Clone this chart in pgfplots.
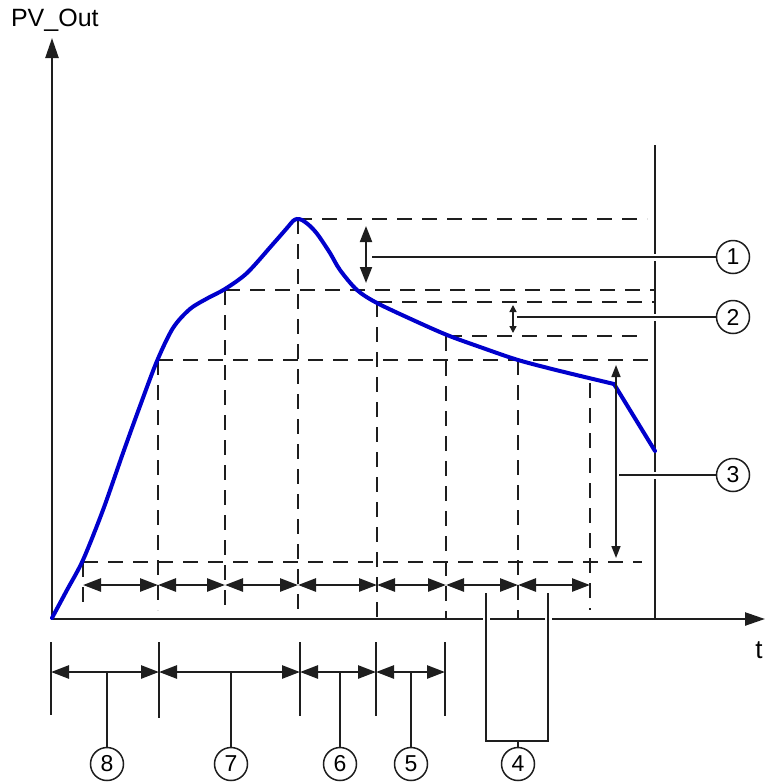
\documentclass[border=0pt]{standalone}
\usepackage{pgfplots}
\pgfplotsset{compat=1.18}
\usepackage{fontspec}
\setmainfont{Liberation Sans}
\usetikzlibrary{arrows.meta}
\definecolor{pvblue}{RGB}{0,0,204}
\definecolor{ink}{RGB}{30,30,30}

\tikzset{
  dsh/.style={draw=ink, line width=0.65pt, dash pattern=on 7.5pt off 5pt},
  lead/.style={draw=ink, line width=0.8pt},
  tck/.style={draw=ink, line width=1pt},
  dbl/.style={draw=ink, line width=1.3pt, {Triangle[length=9pt,width=6.5pt]}-{Triangle[length=9pt,width=6.5pt]}},
  circ/.style={draw=ink, circle, line width=0.75pt, minimum size=16.5pt, inner sep=0pt, fill=white,
    font=\fontsize{11.5}{12}\selectfont},
  halo/.style={preaction={draw=white, line width=3.5pt}},
}

\begin{document}
\begin{tikzpicture}
\begin{axis}[
  width=382.5pt, height=391pt, scale only axis,
  xmin=0, xmax=765, ymin=0, ymax=782, y dir=reverse,
  hide axis, clip=false,
]
% frame of the picture
\path (axis cs:0,0) rectangle (axis cs:765,782);

% dashed guides, horizontal
\draw[dsh] (297,219) -- (647,219);
\draw[dsh] (225,290) -- (655,290);
\draw[dsh] (377,302) -- (655,302);
\draw[dsh] (447,336) -- (640,336);
\draw[dsh] (158,360) -- (655,360);
\draw[dsh] (83,562) -- (642,562);
% dashed guides, vertical
\draw[dsh] (83,562) -- (83,610);
\draw[dsh] (158,360) -- (158,610);
\draw[dsh] (225,290) -- (225,608);
\draw[dsh] (298,219) -- (298,619);
\draw[dsh] (377,302) -- (377,619);
\draw[dsh] (446,336) -- (446,619);
\draw[dsh] (518,360) -- (518,619);
\draw[dsh] (590,383) -- (590,610);

% axes
\draw[draw=ink, line width=1.2pt, -{Triangle[length=10pt,width=6.5pt]}] (52,619) -- (52,38);
\draw[draw=ink, line width=1.2pt, -{Triangle[length=10pt,width=6.5pt]}] (52,619) -- (765,619);
\draw[draw=ink, line width=1pt] (655,145) -- (655,619);
\node[anchor=west, font=\fontsize{12.5}{13}\selectfont] at (4,20) {PV\_Out};
\node[font=\fontsize{13}{13}\selectfont] at (759,650) {t};

% process value
\addplot[pvblue, line width=2pt, smooth, tension=0.5, line cap=round] coordinates {
  (52,618) (67,590) (83,560) (103,510) (123,453) (140,406) (157,361)
  (173,328) (190,309) (208,298) (225,289) (247,273) (273,244) (287,228)
  (293,221) (297,219) (302,220) (310,226) (318,235) (330,253) (340,270)
  (357,290) (377,303) (413,320) (447,335) (480,347) (518,360) (560,371) (614,384)
};
\addplot[pvblue, line width=2pt, line cap=round] coordinates {(614,384) (655,451)};

% intervals between the samples
\draw[dbl] (83,585) -- (158,585);
\draw[dbl] (158,585) -- (225,585);
\draw[dbl] (225,585) -- (298,585);
\draw[dbl] (298,585) -- (377,585);
\draw[dbl] (377,585) -- (446,585);
\draw[dbl] (446,585) -- (518,585);
\draw[dbl] (518,585) -- (590,585);

% markers 1 to 3
\draw[draw=ink, line width=1pt, {Triangle[length=8pt,width=6pt]}-{Triangle[length=8pt,width=6pt]}] (366,226) -- (366,283);
\draw[lead, halo] (372,257) -- (717,257);
\node[circ] at (733,257) {1};
\draw[draw=ink, line width=0.7pt, {Triangle[length=3.5pt,width=3.5pt]}-{Triangle[length=3.5pt,width=3.5pt]}] (513,305) -- (513,333);
\draw[lead, halo] (517,317) -- (717,317);
\node[circ] at (733,317) {2};
\draw[draw=ink, line width=0.8pt, {Triangle[length=6pt,width=4.5pt]}-{Triangle[length=6pt,width=4.5pt]}] (616,365) -- (616,558);
\draw[lead, halo] (619,475) -- (717,475);
\node[circ] at (733,475) {3};

% lower part: phases 5 to 8
\draw[tck] (51,642) -- (51,715);
\draw[tck] (159,642) -- (159,718);
\draw[tck] (300,642) -- (300,716);
\draw[tck] (376,642) -- (376,716);
\draw[tck] (445,642) -- (445,716);
\draw[dbl] (51,672) -- (159,672);
\draw[dbl] (159,672) -- (300,672);
\draw[dbl] (300,672) -- (376,672);
\draw[dbl] (376,672) -- (445,672);
\draw[lead] (107,673) -- (107,748);
\node[circ] at (107,764) {8};
\draw[lead] (231,673) -- (231,748);
\node[circ] at (231,764) {7};
\draw[lead] (340,673) -- (340,748);
\node[circ] at (340,764) {6};
\draw[lead] (411,673) -- (411,748);
\node[circ] at (411,764) {5};
% bracket 4
\draw[lead, halo] (486,593) -- (486,741) -- (548,741) -- (548,593);
\draw[lead] (518,741) -- (518,748);
\node[circ] at (518,764) {4};
\end{axis}
\end{tikzpicture}
\end{document}
